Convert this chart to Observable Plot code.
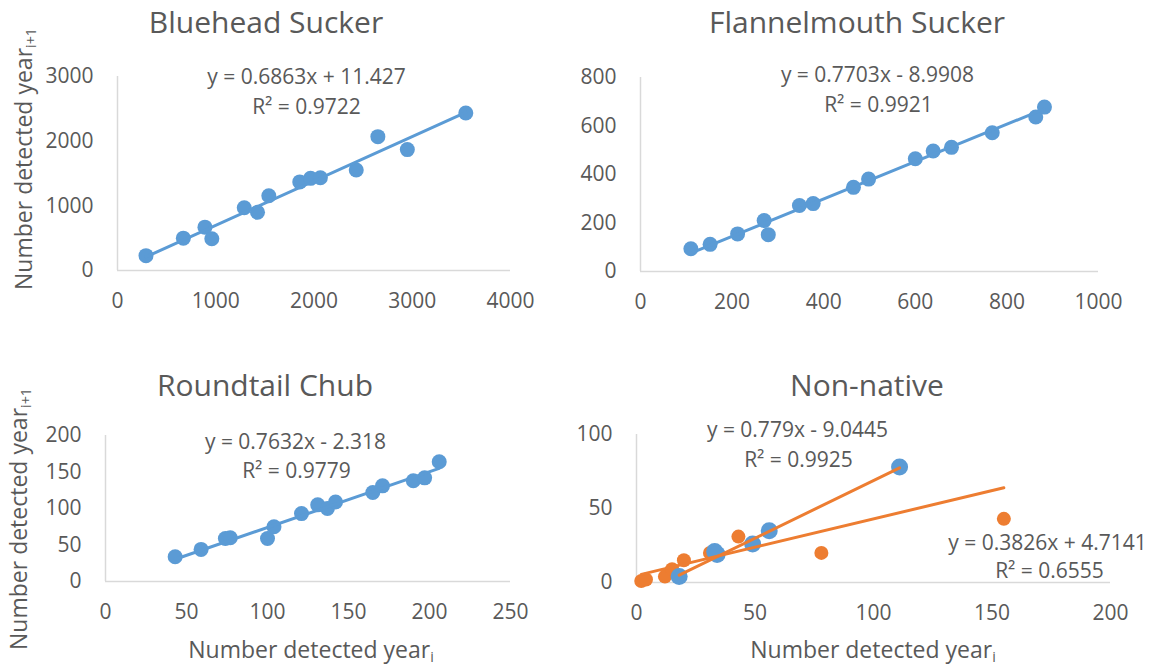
<!DOCTYPE html>
<html><head><meta charset="utf-8">
<script src="https://cdn.jsdelivr.net/npm/d3@7"></script>
<script src="https://cdn.jsdelivr.net/npm/@observablehq/plot@0.6"></script>
<style>
body{margin:0;background:#fff;font-family:"Open Sans",sans-serif;color:#595959}
#chart{position:relative;width:1154px;height:666px;overflow:hidden;background:#fff}
.t{position:absolute;white-space:nowrap;line-height:1;transform:translateX(-50%)}
.title{font-size:30px;line-height:normal}
.ax{font-size:23px}
.yt{transform:translate(-50%,-50%) rotate(-90deg)}
.sb{font-size:0.62em;position:relative;top:0.3em}
</style></head>
<body><div id="chart"></div>
<script>
// ---- data ----
const panelTitles = ["Bluehead Sucker", "Flannelmouth Sucker", "Roundtail Chub", "Non-native"];

const blueheadX = [290, 670, 890, 960, 1290, 1425, 1540, 1855, 1965, 2065, 2430, 2650, 2950, 3545];
const blueheadY = [230, 500, 670, 490, 970, 900, 1155, 1370, 1425, 1435, 1555, 2070, 1870, 2435];

const flannelX = [110, 152, 212, 270, 279, 347, 377, 465, 498, 600, 639, 679, 768, 863, 882];
const flannelY = [94, 112, 155, 210, 152, 272, 280, 347, 381, 465, 497, 512, 572, 637, 678];

const roundtailX = [43, 59, 74, 77, 100, 104, 121, 131, 137, 142, 165, 171, 190, 197, 206];
const roundtailY = [34, 44, 59, 60, 59, 75, 93, 105, 100, 109, 122, 131, 138, 142, 164];

const nonNativeBlueX = [18, 33, 34, 49, 56, 111];
const nonNativeBlueY = [4, 21, 19, 26, 35, 78];
const nonNativeOrangeX = [2, 4, 12, 15, 20, 31, 43, 78, 155];
const nonNativeOrangeY = [1, 2, 4, 9, 15, 20, 31, 20, 43];

// trend lines: bluehead, flannelmouth, roundtail, non-native (blue series), non-native (orange series)
const fitSlope = [0.6863, 0.7703, 0.7632, 0.779, 0.3826];
const fitIntercept = [11.427, -8.9908, -2.318, -9.0445, 4.7141];
const fitR2 = ["0.9722", "0.9921", "0.9779", "0.9925", "0.6555"];

const xTicksBluehead = [0, 1000, 2000, 3000, 4000];
const yTicksBluehead = [0, 1000, 2000, 3000];
const xTicksFlannel = [0, 200, 400, 600, 800, 1000];
const yTicksFlannel = [0, 200, 400, 600, 800];
const xTicksRoundtail = [0, 50, 100, 150, 200, 250];
const yTicksRoundtail = [0, 50, 100, 150, 200];
const xTicksNonNative = [0, 50, 100, 150, 200];
const yTicksNonNative = [0, 50, 100];

const axisTitleX = "Number detected year";
const axisTitleY = "Number detected year";

// ---- styles ----
const BLUE = "#5B9BD5", ORANGE = "#ED7D31", GRAY = "#595959", AXIS = "#D9D9D9";

const chart = document.getElementById("chart");

const eqText = i => `y = ${fitSlope[i]}x ${fitIntercept[i] < 0 ? "-" : "+"} ${Math.abs(fitIntercept[i])}`;
const r2Text = i => `R² = ${fitR2[i]}`;

function panel(cfg) {
  const marks = [
    Plot.ruleY([0], {stroke: AXIS, strokeWidth: 1.5}),
    Plot.ruleX([0], {stroke: AXIS, strokeWidth: 1.5}),
    Plot.axisX({ticks: cfg.xTicks, tickSize: 0, tickPadding: 23, tickFormat: d => String(d), label: null}),
    Plot.axisY({ticks: cfg.yTicks, tickSize: 0, tickPadding: 24, tickFormat: d => String(d), label: null})
  ];
  for (const s of cfg.series) {
    marks.push(Plot.dot(d3.zip(s.x, s.y), {x: d => d[0], y: d => d[1], r: s.r, fill: s.color, stroke: "none"}));
  }
  for (const f of cfg.fits) {
    const ext = d3.extent(f.x);
    const pts = ext.map(x => [x, fitSlope[f.i] * x + fitIntercept[f.i]]);
    marks.push(Plot.line(pts, {x: d => d[0], y: d => d[1], stroke: f.color, strokeWidth: 3}));
  }
  for (const l of cfg.labels) {
    marks.push(Plot.text([l.text], {frameAnchor: "top-left", dx: l.dx, dy: l.dy, text: d => d,
      textAnchor: "middle", lineAnchor: "middle", fontSize: 21, fill: GRAY}));
  }
  const svg = Plot.plot({
    width: 577, height: 333,
    marginLeft: cfg.m[0], marginRight: cfg.m[1], marginTop: cfg.m[2], marginBottom: cfg.m[3],
    x: {domain: cfg.xDomain},
    y: {domain: cfg.yDomain},
    style: {fontFamily: "'Open Sans', sans-serif", fontSize: "21px", color: GRAY, background: "transparent", overflow: "visible"},
    marks
  });
  svg.style.position = "absolute";
  svg.style.left = cfg.left + "px";
  svg.style.top = cfg.top + "px";
  chart.appendChild(svg);
}

panel({
  left: 0, top: 0, m: [117, 67, 76, 63],
  xDomain: [0, 4000], yDomain: [0, 3000], xTicks: xTicksBluehead, yTicks: yTicksBluehead,
  series: [{x: blueheadX, y: blueheadY, r: 7.5, color: BLUE}],
  fits: [{x: blueheadX, i: 0, color: BLUE}],
  labels: [{text: eqText(0), dx: 189, dy: 1}, {text: r2Text(0), dx: 189, dy: 31}]
});
panel({
  left: 577, top: 0, m: [63, 56, 77, 62],
  xDomain: [0, 1000], yDomain: [0, 800], xTicks: xTicksFlannel, yTicks: yTicksFlannel,
  series: [{x: flannelX, y: flannelY, r: 7.5, color: BLUE}],
  fits: [{x: flannelX, i: 1, color: BLUE}],
  labels: [{text: eqText(1), dx: 237, dy: -2}, {text: r2Text(1), dx: 238, dy: 28}]
});
panel({
  left: 0, top: 333, m: [105, 67, 102, 85],
  xDomain: [0, 250], yDomain: [0, 200], xTicks: xTicksRoundtail, yTicks: yTicksRoundtail,
  series: [{x: roundtailX, y: roundtailY, r: 7.5, color: BLUE}],
  fits: [{x: roundtailX, i: 2, color: BLUE}],
  labels: [{text: eqText(2), dx: 190, dy: 7}, {text: r2Text(2), dx: 191, dy: 36}]
});
panel({
  left: 577, top: 333, m: [59, 44, 101, 84],
  xDomain: [0, 200], yDomain: [0, 100], xTicks: xTicksNonNative, yTicks: yTicksNonNative,
  series: [
    {x: nonNativeOrangeX, y: nonNativeOrangeY, r: 7, color: ORANGE},
    {x: nonNativeBlueX, y: nonNativeBlueY, r: 8.5, color: BLUE}
  ],
  fits: [{x: nonNativeBlueX, i: 3, color: ORANGE}, {x: nonNativeOrangeX, i: 4, color: ORANGE}],
  labels: [
    {text: eqText(3), dx: 161, dy: -4}, {text: r2Text(3), dx: 162, dy: 26},
    {text: eqText(4), dx: 411, dy: 109}, {text: r2Text(4), dx: 413, dy: 137}
  ]
});

// ---- titles and axis titles ----
function addText(html, cls, x, y) {
  const d = document.createElement("div");
  d.className = "t " + cls;
  d.innerHTML = html;
  d.style.left = x + "px";
  d.style.top = y + "px";
  chart.appendChild(d);
}
const titlePos = [[266, 1], [857, 1], [265, 364], [867, 364]];
panelTitles.forEach((t, i) => addText(t, "title", titlePos[i][0], titlePos[i][1]));
addText(`${axisTitleY}<span class="sb">i+1</span>`, "ax yt", 23, 159);
addText(`${axisTitleY}<span class="sb">i+1</span>`, "ax yt", 18, 519);
addText(`${axisTitleX}<span class="sb">i</span>`, "ax", 311, 638);
addText(`${axisTitleX}<span class="sb">i</span>`, "ax", 873, 638);
</script>
</body></html>
